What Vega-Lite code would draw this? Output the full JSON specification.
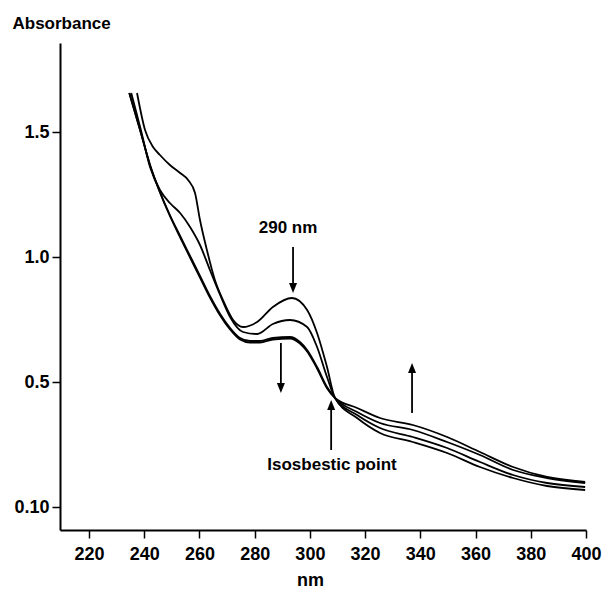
{
  "$schema": "https://vega.github.io/schema/vega-lite/v6.json",
  "width": 526,
  "height": 487,
  "autosize": {"type": "none"},
  "padding": {"left": 60, "top": 43, "right": 19, "bottom": 65},
  "background": "white",
  "config": {
    "view": {"stroke": null},
    "font": "Liberation Sans"
  },
  "datasets": {
    "spectra": [
      {"curve": "A", "nm": 237.4, "abs": 1.656},
      {"curve": "A", "nm": 240.3, "abs": 1.508},
      {"curve": "A", "nm": 243.2, "abs": 1.44},
      {"curve": "A", "nm": 245.7, "abs": 1.408},
      {"curve": "A", "nm": 249.3, "abs": 1.368},
      {"curve": "A", "nm": 253.0, "abs": 1.336},
      {"curve": "A", "nm": 255.9, "abs": 1.308},
      {"curve": "A", "nm": 258.4, "abs": 1.256},
      {"curve": "A", "nm": 260.2, "abs": 1.148},
      {"curve": "A", "nm": 262.7, "abs": 1.028},
      {"curve": "A", "nm": 265.6, "abs": 0.908},
      {"curve": "A", "nm": 268.5, "abs": 0.828},
      {"curve": "A", "nm": 272.2, "abs": 0.748},
      {"curve": "A", "nm": 275.8, "abs": 0.72},
      {"curve": "A", "nm": 280.9, "abs": 0.74},
      {"curve": "A", "nm": 286.6, "abs": 0.8},
      {"curve": "A", "nm": 293.5, "abs": 0.836},
      {"curve": "A", "nm": 299.0, "abs": 0.788},
      {"curve": "A", "nm": 302.6, "abs": 0.696},
      {"curve": "A", "nm": 306.2, "abs": 0.56},
      {"curve": "A", "nm": 309.1, "abs": 0.436},
      {"curve": "A", "nm": 317.1, "abs": 0.356},
      {"curve": "A", "nm": 325.4, "abs": 0.296},
      {"curve": "A", "nm": 337.3, "abs": 0.26},
      {"curve": "A", "nm": 349.7, "abs": 0.216},
      {"curve": "A", "nm": 361.6, "abs": 0.16},
      {"curve": "A", "nm": 373.6, "abs": 0.116},
      {"curve": "A", "nm": 385.9, "abs": 0.084},
      {"curve": "A", "nm": 399.7, "abs": 0.068},

      {"curve": "B", "nm": 235.3, "abs": 1.656},
      {"curve": "B", "nm": 238.8, "abs": 1.508},
      {"curve": "B", "nm": 242.1, "abs": 1.36},
      {"curve": "B", "nm": 245.7, "abs": 1.268},
      {"curve": "B", "nm": 249.3, "abs": 1.216},
      {"curve": "B", "nm": 253.0, "abs": 1.176},
      {"curve": "B", "nm": 256.6, "abs": 1.12},
      {"curve": "B", "nm": 260.2, "abs": 1.048},
      {"curve": "B", "nm": 263.8, "abs": 0.948},
      {"curve": "B", "nm": 267.5, "abs": 0.848},
      {"curve": "B", "nm": 271.1, "abs": 0.76},
      {"curve": "B", "nm": 275.8, "abs": 0.7},
      {"curve": "B", "nm": 280.9, "abs": 0.692},
      {"curve": "B", "nm": 286.6, "abs": 0.732},
      {"curve": "B", "nm": 292.8, "abs": 0.748},
      {"curve": "B", "nm": 299.0, "abs": 0.72},
      {"curve": "B", "nm": 302.6, "abs": 0.64},
      {"curve": "B", "nm": 306.2, "abs": 0.52},
      {"curve": "B", "nm": 309.1, "abs": 0.436},
      {"curve": "B", "nm": 317.1, "abs": 0.368},
      {"curve": "B", "nm": 325.4, "abs": 0.316},
      {"curve": "B", "nm": 337.3, "abs": 0.28},
      {"curve": "B", "nm": 349.7, "abs": 0.236},
      {"curve": "B", "nm": 361.6, "abs": 0.18},
      {"curve": "B", "nm": 373.6, "abs": 0.128},
      {"curve": "B", "nm": 385.9, "abs": 0.096},
      {"curve": "B", "nm": 399.7, "abs": 0.08},

      {"curve": "C", "nm": 234.6, "abs": 1.656},
      {"curve": "C", "nm": 238.5, "abs": 1.508},
      {"curve": "C", "nm": 242.1, "abs": 1.368},
      {"curve": "C", "nm": 245.7, "abs": 1.26},
      {"curve": "C", "nm": 249.3, "abs": 1.168},
      {"curve": "C", "nm": 253.0, "abs": 1.084},
      {"curve": "C", "nm": 256.6, "abs": 1.004},
      {"curve": "C", "nm": 260.2, "abs": 0.924},
      {"curve": "C", "nm": 263.8, "abs": 0.844},
      {"curve": "C", "nm": 267.5, "abs": 0.772},
      {"curve": "C", "nm": 271.1, "abs": 0.716},
      {"curve": "C", "nm": 274.7, "abs": 0.676},
      {"curve": "C", "nm": 278.3, "abs": 0.664},
      {"curve": "C", "nm": 281.9, "abs": 0.664},
      {"curve": "C", "nm": 286.6, "abs": 0.676},
      {"curve": "C", "nm": 292.8, "abs": 0.68},
      {"curve": "C", "nm": 296.4, "abs": 0.66},
      {"curve": "C", "nm": 299.0, "abs": 0.628},
      {"curve": "C", "nm": 302.6, "abs": 0.56},
      {"curve": "C", "nm": 306.2, "abs": 0.48},
      {"curve": "C", "nm": 309.1, "abs": 0.436},
      {"curve": "C", "nm": 317.1, "abs": 0.38},
      {"curve": "C", "nm": 325.4, "abs": 0.336},
      {"curve": "C", "nm": 337.3, "abs": 0.308},
      {"curve": "C", "nm": 349.7, "abs": 0.26},
      {"curve": "C", "nm": 361.6, "abs": 0.208},
      {"curve": "C", "nm": 373.6, "abs": 0.148},
      {"curve": "C", "nm": 385.9, "abs": 0.116},
      {"curve": "C", "nm": 399.7, "abs": 0.096},

      {"curve": "D", "nm": 234.6, "abs": 1.656},
      {"curve": "D", "nm": 238.5, "abs": 1.508},
      {"curve": "D", "nm": 242.1, "abs": 1.368},
      {"curve": "D", "nm": 245.7, "abs": 1.258},
      {"curve": "D", "nm": 249.3, "abs": 1.164},
      {"curve": "D", "nm": 253.0, "abs": 1.079},
      {"curve": "D", "nm": 256.6, "abs": 0.998},
      {"curve": "D", "nm": 260.2, "abs": 0.918},
      {"curve": "D", "nm": 263.8, "abs": 0.838},
      {"curve": "D", "nm": 267.5, "abs": 0.766},
      {"curve": "D", "nm": 271.1, "abs": 0.71},
      {"curve": "D", "nm": 274.7, "abs": 0.67},
      {"curve": "D", "nm": 278.3, "abs": 0.658},
      {"curve": "D", "nm": 281.9, "abs": 0.658},
      {"curve": "D", "nm": 286.6, "abs": 0.67},
      {"curve": "D", "nm": 292.8, "abs": 0.674},
      {"curve": "D", "nm": 296.4, "abs": 0.654},
      {"curve": "D", "nm": 299.0, "abs": 0.622},
      {"curve": "D", "nm": 302.6, "abs": 0.554},
      {"curve": "D", "nm": 306.2, "abs": 0.475},
      {"curve": "D", "nm": 309.1, "abs": 0.436},
      {"curve": "D", "nm": 317.1, "abs": 0.396},
      {"curve": "D", "nm": 325.4, "abs": 0.356},
      {"curve": "D", "nm": 337.3, "abs": 0.328},
      {"curve": "D", "nm": 349.7, "abs": 0.28},
      {"curve": "D", "nm": 361.6, "abs": 0.22},
      {"curve": "D", "nm": 373.6, "abs": 0.16},
      {"curve": "D", "nm": 385.9, "abs": 0.12},
      {"curve": "D", "nm": 399.7, "abs": 0.1}
    ],
    "shafts": [
      {"nm": 293.9, "abs": 1.04, "absEnd": 0.876},
      {"nm": 289.5, "abs": 0.656, "absEnd": 0.476},
      {"nm": 307.7, "abs": 0.228, "absEnd": 0.408},
      {"nm": 337.0, "abs": 0.376, "absEnd": 0.556}
    ],
    "heads": [
      {"nm": 293.9, "abs": 0.856, "dir": "down"},
      {"nm": 289.5, "abs": 0.456, "dir": "down"},
      {"nm": 307.7, "abs": 0.428, "dir": "up"},
      {"nm": 337.0, "abs": 0.576, "dir": "up"}
    ],
    "labels": [
      {"nm": 292.1, "abs": 1.116, "text": "290 nm"},
      {"nm": 308.0, "abs": 0.168, "text": "Isosbestic point"}
    ]
  },
  "encoding": {
    "x": {
      "field": "nm", "type": "quantitative",
      "scale": {"domain": [209.5, 400], "nice": false, "zero": false},
      "axis": {
        "values": [220, 240, 260, 280, 300, 320, 340, 360, 380, 400],
        "title": "nm",
        "titleX": 250, "titleY": 50, "titleAlign": "center", "titleBaseline": "middle",
        "titleFont": "Liberation Sans", "titleFontSize": 18, "titleFontWeight": "bold", "titleColor": "black",
        "labelFont": "Liberation Sans", "labelFontSize": 18, "labelFontWeight": "bold", "labelColor": "black",
        "labelPadding": 7, "tickSize": 8, "tickWidth": 1.5, "tickColor": "black",
        "domainColor": "black", "domainWidth": 2, "grid": false, "labelFlush": false, "labelOverlap": false
      }
    },
    "y": {
      "field": "abs", "type": "quantitative",
      "scale": {"domain": [-0.092, 1.856], "nice": false, "zero": false},
      "axis": {
        "values": [0, 0.5, 1.0, 1.5],
        "labelExpr": "datum.value == 0 ? '0.10' : format(datum.value, '.1f')",
        "title": "Absorbance",
        "titleAngle": 0, "titleX": -48, "titleY": -20, "titleAlign": "left", "titleBaseline": "middle",
        "titleFont": "Liberation Sans", "titleFontSize": 17, "titleFontWeight": "bold", "titleColor": "black",
        "labelFont": "Liberation Sans", "labelFontSize": 18, "labelFontWeight": "bold", "labelColor": "black",
        "labelPadding": 3, "tickSize": 8, "tickWidth": 1.5, "tickColor": "black",
        "domainColor": "black", "domainWidth": 2, "grid": false, "labelFlush": false, "labelOverlap": false
      }
    }
  },
  "layer": [
    {
      "data": {"name": "spectra"},
      "mark": {"type": "line", "interpolate": "monotone", "color": "black", "strokeWidth": 1.8, "clip": true},
      "encoding": {
        "detail": {"field": "curve", "type": "nominal"}
      }
    },
    {
      "data": {"name": "shafts"},
      "mark": {"type": "rule", "color": "black", "strokeWidth": 1.8},
      "encoding": {
        "y2": {"field": "absEnd"}
      }
    },
    {
      "data": {"name": "heads"},
      "mark": {"type": "point", "filled": true, "color": "black", "opacity": 1, "size": 100, "strokeWidth": 0},
      "encoding": {
        "shape": {
          "field": "dir", "type": "nominal", "legend": null,
          "scale": {"domain": ["down", "up"], "range": ["M0,0L-0.8,-2L0.8,-2Z", "M0,0L-0.8,2L0.8,2Z"]}
        }
      }
    },
    {
      "data": {"name": "labels"},
      "mark": {"type": "text", "font": "Liberation Sans", "fontSize": 17, "fontWeight": "bold", "color": "black", "align": "center", "baseline": "middle"},
      "encoding": {
        "text": {"field": "text", "type": "nominal"}
      }
    }
  ]
}
